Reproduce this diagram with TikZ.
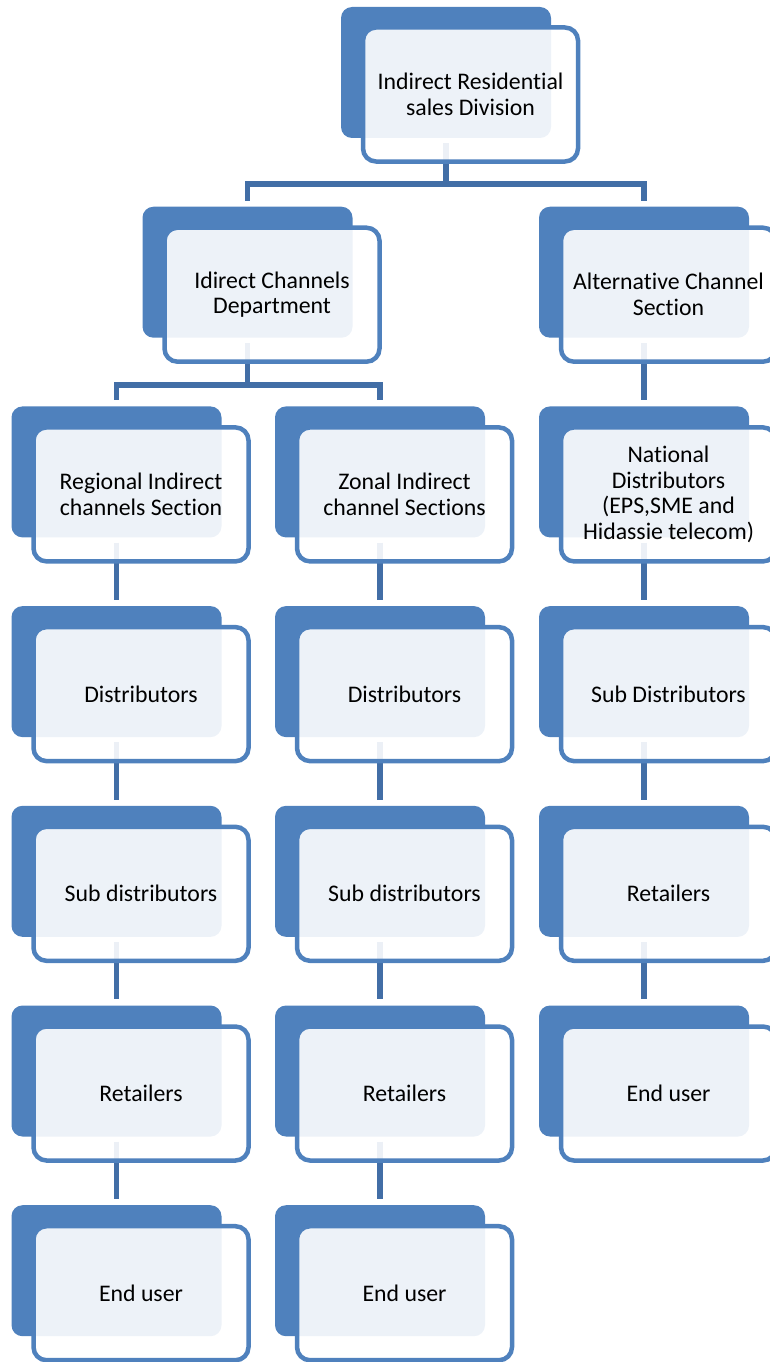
\documentclass[tikz,border=0pt]{standalone}
\usepackage{fontspec}
\setmainfont{Carlito}[Ligatures=NoCommon]
\usetikzlibrary{calc}
\definecolor{acc}{RGB}{79,129,189}
\definecolor{conncol}{RGB}{66,110,166}
\begin{document}
\begin{tikzpicture}[x=1pt,y=-1pt,
  darkbox/.style={fill=acc, draw=none, rounded corners=11pt, minimum width=210pt, minimum height=131pt, inner sep=0pt},
  frontbox/.style={draw=acc, line width=4.5pt, fill=white, fill opacity=0.9, text opacity=1, rounded corners=13pt, minimum width=215pt, minimum height=134pt, inner sep=0pt, align=center, font=\fontsize{23.8}{25.8}\selectfont, text=black},
  conn/.style={draw=conncol, line width=5.5pt},
  gapstart/.style={shorten <=5pt},
  gapend/.style={shorten >=6pt},
]
\useasboundingbox (0,0) rectangle (770,1362);
\clip (0,0) rectangle (770,1362);
% back boxes
\node[darkbox] (topd) at (446,72.5) {};
\node[darkbox] (idd) at (247.5,272.2) {};
\node[darkbox] (altd) at (644,272.2) {};
\node[darkbox] (a3d) at (116.5,471.9) {};
\node[darkbox] (a4d) at (116.5,671.6) {};
\node[darkbox] (a5d) at (116.5,871.3) {};
\node[darkbox] (a6d) at (116.5,1071) {};
\node[darkbox] (a7d) at (116.5,1270.7) {};
\node[darkbox] (b3d) at (380,471.9) {};
\node[darkbox] (b4d) at (380,671.6) {};
\node[darkbox] (b5d) at (380,871.3) {};
\node[darkbox] (b6d) at (380,1071) {};
\node[darkbox] (b7d) at (380,1270.7) {};
\node[darkbox] (c3d) at (644,471.9) {};
\node[darkbox] (c4d) at (644,671.6) {};
\node[darkbox] (c5d) at (644,871.3) {};
\node[darkbox] (c6d) at (644,1071) {};
% connectors
\coordinate (j1) at (446,184);
\coordinate (j2) at (247.5,385);
\draw[conn, gapstart] (topd.south) -- (j1);
\draw[conn, gapend] (j1) -| (idd.north);
\draw[conn, gapend] (j1) -| (altd.north);
\draw[conn, gapstart] (idd.south) -- (j2);
\draw[conn, gapend] (j2) -| (a3d.north);
\draw[conn, gapend] (j2) -| (b3d.north);
\draw[conn, gapstart, gapend] (altd.south) -- (c3d.north);
\foreach \c in {a,b} {
  \draw[conn, gapstart, gapend] (\c3d.south) -- (\c4d.north);
  \draw[conn, gapstart, gapend] (\c4d.south) -- (\c5d.north);
  \draw[conn, gapstart, gapend] (\c5d.south) -- (\c6d.north);
  \draw[conn, gapstart, gapend] (\c6d.south) -- (\c7d.north);
}
\draw[conn, gapstart, gapend] (c3d.south) -- (c4d.north);
\draw[conn, gapstart, gapend] (c4d.south) -- (c5d.north);
\draw[conn, gapstart, gapend] (c5d.south) -- (c6d.north);
% front boxes
\node[frontbox] (top) at (470.5,94.5) {Indirect Residential\\sales Division};
\node[frontbox] (id) at (272,294.7) {Idirect Channels\\Department};
\node[frontbox] (alt) at (668.5,294.7) {Alternative Channel\\Section};
\node[frontbox] (a3) at (141,494.4) {Regional Indirect\\channels Section};
\node[frontbox] (a4) at (141,694.1) {Distributors};
\node[frontbox] (a5) at (141,893.8) {Sub distributors};
\node[frontbox] (a6) at (141,1093.5) {Retailers};
\node[frontbox] (a7) at (141,1293.2) {End user};
\node[frontbox] (b3) at (404.5,494.4) {Zonal Indirect\\channel Sections};
\node[frontbox] (b4) at (404.5,694.1) {Distributors};
\node[frontbox] (b5) at (404.5,893.8) {Sub distributors};
\node[frontbox] (b6) at (404.5,1093.5) {Retailers};
\node[frontbox] (b7) at (404.5,1293.2) {End user};
\node[frontbox] (c3) at (668.5,494.4) {National\\Distributors\\(EPS,SME and\\Hidassie telecom)};
\node[frontbox] (c4) at (668.5,694.1) {Sub Distributors};
\node[frontbox] (c5) at (668.5,893.8) {Retailers};
\node[frontbox] (c6) at (668.5,1093.5) {End user};
\end{tikzpicture}
\end{document}
